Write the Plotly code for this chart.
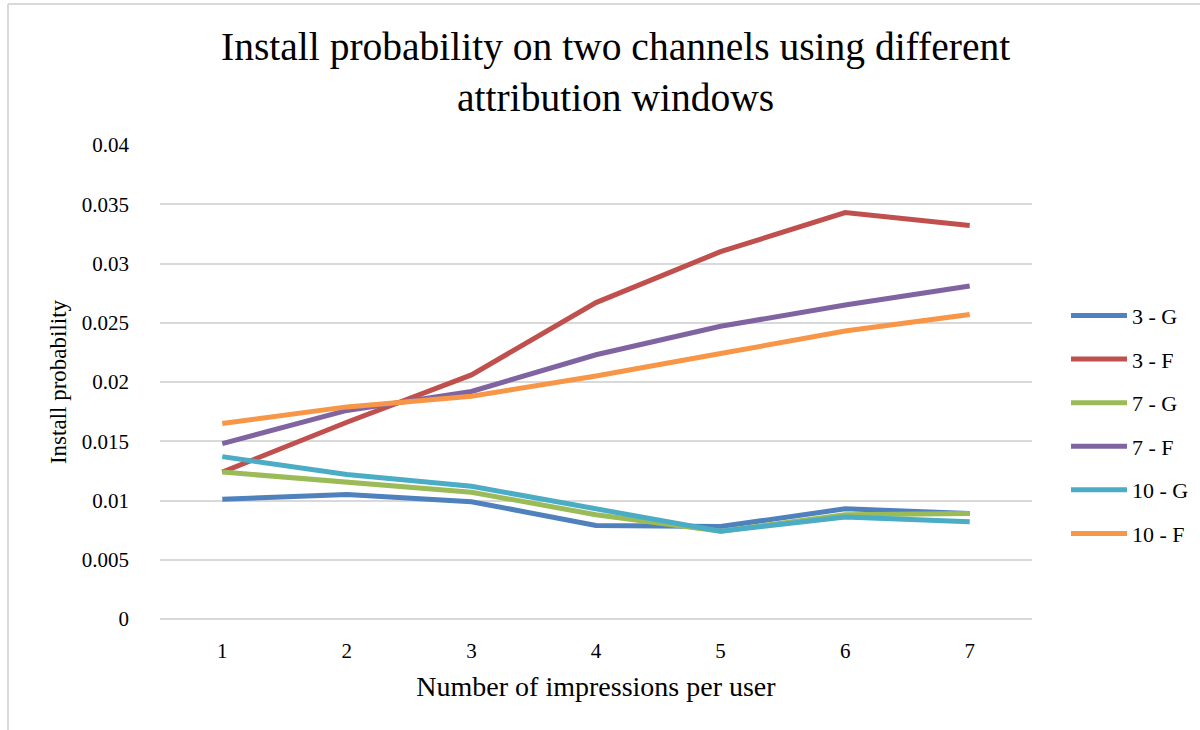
import plotly.graph_objects as go

impressions = [1, 2, 3, 4, 5, 6, 7]
series_names = ["3 - G", "3 - F", "7 - G", "7 - F", "10 - G", "10 - F"]
s3_G = [0.0101, 0.0105, 0.0099, 0.0079, 0.0078, 0.0093, 0.0089]
s3_F = [0.0124, 0.0166, 0.0206, 0.0267, 0.0310, 0.0343, 0.0332]
s7_G = [0.0124, 0.0115, 0.0107, 0.0088, 0.0074, 0.0088, 0.0089]
s7_F = [0.0148, 0.0176, 0.0192, 0.0223, 0.0247, 0.0265, 0.0281]
s10_G = [0.0137, 0.0122, 0.0112, 0.0093, 0.0074, 0.0086, 0.0082]
s10_F = [0.0165, 0.0179, 0.0188, 0.0205, 0.0224, 0.0243, 0.0257]
y_ticks = [0, 0.005, 0.01, 0.015, 0.02, 0.025, 0.03, 0.035, 0.04]
y_tick_labels = ["0", "0.005", "0.01", "0.015", "0.02", "0.025", "0.03", "0.035", "0.04"]

colors = ["#4F81BD", "#C0504D", "#9BBB59", "#8064A2", "#4BACC6", "#F79646"]
all_series = [s3_G, s3_F, s7_G, s7_F, s10_G, s10_F]

FONT = "Liberation Serif"

fig = go.Figure()
for i, (name, vals) in enumerate(zip(series_names, all_series)):
    fig.add_trace(go.Scatter(
        x=[str(v) for v in impressions], y=vals, mode="lines", name=name,
        legendgroup=f"g{i}",
        line=dict(color=colors[i], width=5),
    ))

fig.update_layout(
    width=1200, height=730,
    paper_bgcolor="white", plot_bgcolor="white",
    margin=dict(l=160, r=168, t=145, b=111, autoexpand=False),
    font=dict(family=FONT, color="#000000", size=21),
    title=dict(
        text="Install probability on two channels using different<br>attribution windows",
        x=0.513, xanchor="center", y=0.918, yanchor="top",
        font=dict(family=FONT, size=39.5, color="#000000"),
    ),
    xaxis=dict(
        type="category", range=[-0.5, 6.5],
        showgrid=False, showline=False, zeroline=False, ticks="",
        ticklabelstandoff=17,
        tickfont=dict(size=21),
        title=dict(text="Number of impressions per user", font=dict(size=28), standoff=14),
    ),
    yaxis=dict(
        range=[0, 0.04], tickvals=y_ticks, ticktext=y_tick_labels,
        showgrid=True, gridcolor="#D9D9D9", gridwidth=1.5,
        zeroline=True, zerolinecolor="#D9D9D9", zerolinewidth=1.5,
        showline=False, ticks="", ticklabelstandoff=30,
        tickfont=dict(size=21),
        title=dict(text="Install probability", font=dict(size=23), standoff=8),
    ),
    legend=dict(
        x=1.039, xanchor="left", y=0.41, yanchor="middle",
        font=dict(size=22), tracegroupgap=12, itemwidth=56,
        bgcolor="rgba(0,0,0,0)",
    ),
    shapes=[
        dict(type="line", xref="paper", yref="paper",
             x0=(8 - 160) / 872, x1=(1200 - 160) / 872,
             y0=(619 - 4) / 474, y1=(619 - 4) / 474,
             line=dict(color="#D9D9D9", width=2)),
        dict(type="line", xref="paper", yref="paper",
             x0=(8 - 160) / 872, x1=(8 - 160) / 872,
             y0=(619 - 4) / 474, y1=(619 - 730) / 474,
             line=dict(color="#D9D9D9", width=2)),
    ],
)

fig.write_html("out.html", config={"displayModeBar": False},
               post_script="document.body.style.margin='0';")
